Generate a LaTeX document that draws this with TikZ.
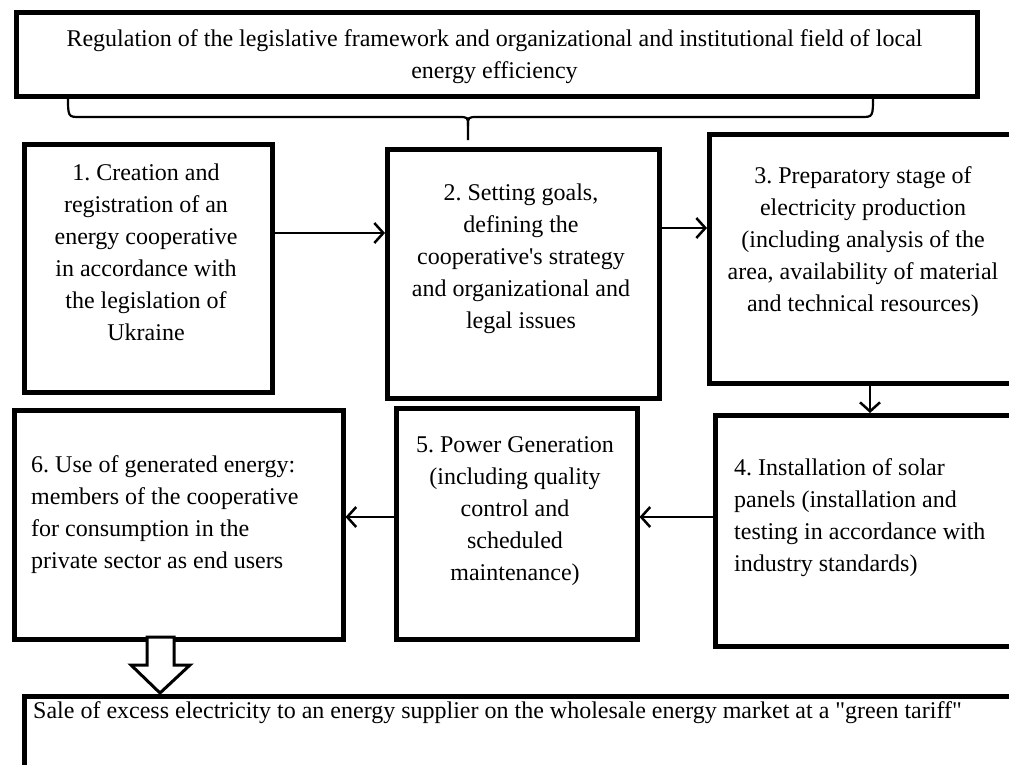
\documentclass[tikz,border=0pt]{standalone}
\usepackage{fontspec}
\setmainfont{Liberation Serif}[Ligatures=TeXOff]
\usetikzlibrary{arrows.meta}
\frenchspacing
\begin{document}
\begin{tikzpicture}[x=1pt,y=-1pt,
  box/.style={draw=black,line width=4.5pt,fill=white,inner sep=0pt,anchor=north west},
  txt/.style={font=\fontsize{24}{32}\selectfont,inner sep=0pt},
  arr/.style={line width=2.5pt,-{Straight Barb[length=9pt,width=20pt,line width=2.5pt]}},
  brace/.style={line width=2.2pt},
  hollow/.style={draw=black,line width=3pt,fill=white,line join=miter}]
\useasboundingbox (0,0) rectangle (1009,764);
\clip (0,0) rectangle (1009,764);
% boxes
\node[box,minimum width=961pt,minimum height=84pt] (T) at (14,10) {};
\node[box,minimum width=248pt,minimum height=248pt] (b1) at (22,142) {};
\node[box,minimum width=272pt,minimum height=249pt] (b2) at (385,147) {};
\node[box,minimum width=312pt,minimum height=249pt] (b3) at (707,132) {};
\node[box,minimum width=312pt,minimum height=231pt] (b4) at (713,413) {};
\node[box,minimum width=241pt,minimum height=231pt] (b5) at (394,406) {};
\node[box,minimum width=329pt,minimum height=229pt] (b6) at (12,408) {};
\node[box,minimum width=1008pt,minimum height=110pt] (S) at (22,694) {};
% texts
\node[txt,align=center] (tT) at (494.5,57) {Regulation of the legislative framework and organizational and institutional field of local\\energy efficiency};
\node[txt,align=center] (t1) at (146,252) {1. Creation and\\registration of an\\energy cooperative\\in accordance with\\the legislation of\\Ukraine};
\node[txt,align=center] (t2) at (521,259) {2. Setting goals,\\defining the\\cooperative's strategy\\and organizational and\\legal issues};
\node[txt,align=center] (t3) at (863,242) {3. Preparatory stage of\\electricity production\\(including analysis of the\\area, availability of material\\and technical resources)};
\node[txt,align=left,anchor=west] (t4) at (734,518) {4. Installation of solar\\panels (installation and\\testing in accordance with\\industry standards)};
\node[txt,align=center] (t5) at (515,511) {5. Power Generation\\(including quality\\control and\\scheduled\\maintenance)};
\node[txt,align=left,anchor=west] (t6) at (31,515) {6. Use of generated energy:\\members of the cooperative\\for consumption in the\\private sector as end users};
\node[txt,anchor=west] (tS) at (33,713) {Sale of excess electricity to an energy supplier on the wholesale energy market at a "green tariff"};
% brace under top box
\coordinate (bl) at (68,96);
\coordinate (br) at (873,96);
\coordinate (bc) at (468,140);
\draw[brace] (bl) .. controls (68,117) and (68,117) .. (80,117) -- (458,117) .. controls (468,117) and (468,117) .. (468,126) -- (bc);
\draw[brace] (br) .. controls (873,117) and (873,117) .. (861,117) -- (478,117) .. controls (468,117) and (468,117) .. (468,126);
% arrows
\coordinate (ya) at (0,233);
\coordinate (yb) at (0,228);
\coordinate (xc) at (870,0);
\coordinate (yd) at (0,517);
\draw[arr] (b1.east |- ya) -- (b2.west |- ya);
\draw[arr] (b2.east |- yb) -- (b3.west |- yb);
\draw[arr] (b3.south -| xc) -- (b4.north -| xc);
\draw[arr] (b4.west |- yd) -- (b5.east |- yd);
\draw[arr] (b5.west |- yd) -- (b6.east |- yd);
% hollow arrow
\coordinate (h1) at (147,637);
\coordinate (tip) at (160,693);
\draw[hollow] (h1) -- (147,665) -- (131,665) -- (tip) -- (190,665) -- (174,665) -- (174,637) -- cycle;
\end{tikzpicture}
\end{document}
